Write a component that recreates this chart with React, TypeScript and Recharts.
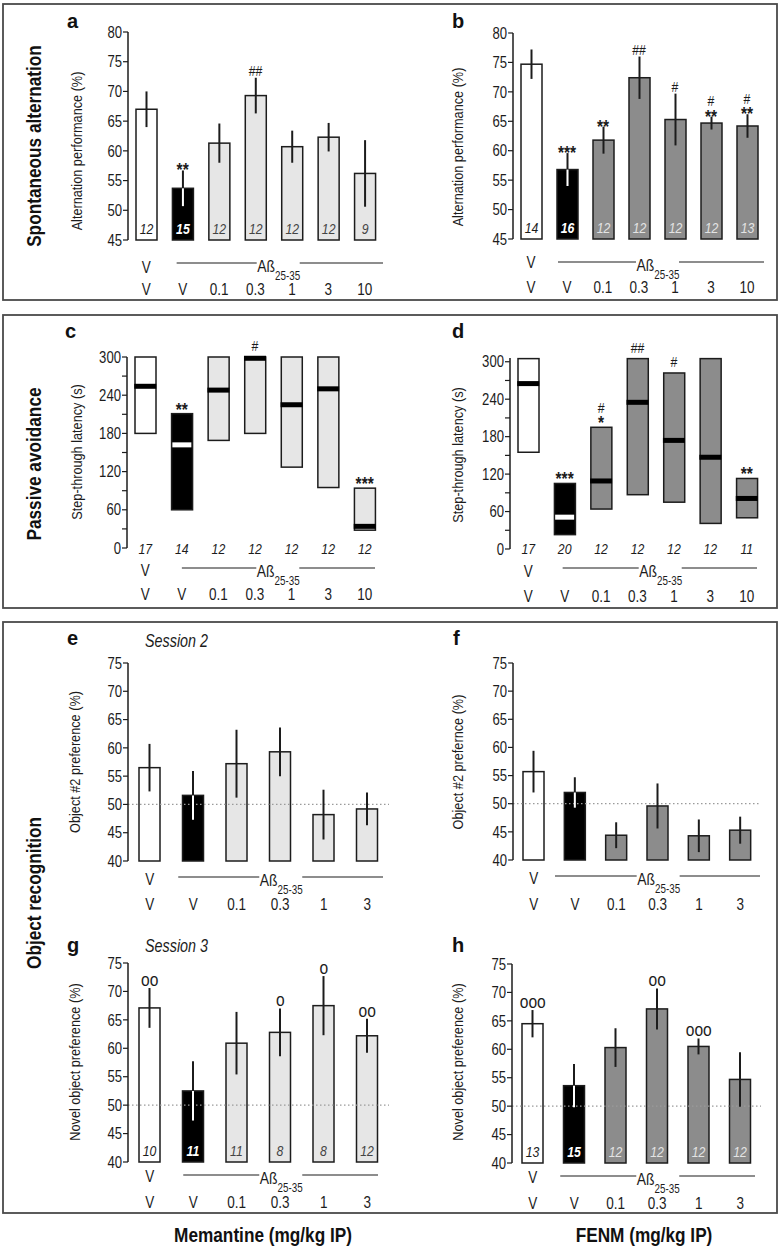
import React from 'react';
import { ComposedChart, Bar, ErrorBar, Line, XAxis, YAxis, ReferenceLine } from 'recharts';

// no condensed face is installed, so Liberation Sans is squeezed horizontally
const FONT = "'Liberation Sans', Arial, sans-serif";
const SX = 0.82;
const INK = '#1c1c1c';
const MEM_FILL = '#e6e6e6';
const FENM_FILL = '#8c8c8c';

const doses7 = ['V', 'V', '0.1', '0.3', '1', '3', '10'];
const doses6 = ['V', 'V', '0.1', '0.3', '1', '3'];

// a - spontaneous alternation, memantine
const altMemMean = [67.0, 53.7, 61.3, 69.3, 60.7, 62.3, 56.2];
const altMemSem = [3.0, 3.0, 3.3, 3.0, 2.7, 2.4, 5.6];
const altMemN = [12, 15, 12, 12, 12, 12, 9];
const altMemSig = ['', '**', '', '##', '', '', ''];

// b - spontaneous alternation, FENM
const altFenmMean = [74.7, 56.8, 61.8, 72.4, 65.3, 64.7, 64.2];
const altFenmSem = [2.5, 2.8, 2.3, 3.6, 4.4, 1.1, 2.0];
const altFenmN = [14, 16, 12, 12, 12, 12, 13];
const altFenmSig = ['', '***', '**', '##', '#', '#\n**', '#\n**'];

// c - passive avoidance, memantine (interquartile range + median)
const paMemLow = [180, 60, 169, 180, 127, 95, 28];
const paMemHigh = [300, 211, 300, 300, 300, 300, 94];
const paMemMedian = [254, 162, 248, 298, 225, 250, 34];
const paMemN = [17, 14, 12, 12, 12, 12, 12];
const paMemSig = ['', '**', '', '#', '', '', '***'];

// d - passive avoidance, FENM
const paFenmLow = [155, 23, 64, 87, 75, 41, 50];
const paFenmHigh = [305, 105, 195, 305, 282, 305, 113];
const paFenmMedian = [265, 51, 109, 235, 174, 147, 81];
const paFenmN = [17, 20, 12, 12, 12, 12, 11];
const paFenmSig = ['', '***', '#\n*', '##', '#', '', '**'];

// e - object recognition session 2, memantine
const s2MemMean = [56.5, 51.6, 57.2, 59.3, 48.2, 49.2];
const s2MemSem = [4.2, 4.3, 6.0, 4.3, 4.4, 2.9];

// f - object recognition session 2, FENM
const s2FenmMean = [55.7, 52.0, 44.4, 49.6, 44.3, 45.3];
const s2FenmSem = [3.7, 2.7, 2.3, 4.0, 2.9, 2.4];

// g - object recognition session 3, memantine
const s3MemMean = [67.1, 52.5, 60.9, 62.8, 67.5, 62.2];
const s3MemSem = [3.5, 5.2, 5.5, 4.2, 5.2, 3.0];
const s3MemN = [10, 11, 11, 8, 8, 12];
const s3MemSig = ['oo', '', '', 'o', 'o', 'oo'];

// h - object recognition session 3, FENM
const s3FenmMean = [64.5, 53.6, 60.3, 67.1, 60.5, 54.7];
const s3FenmSem = [2.4, 3.8, 3.4, 3.6, 1.4, 4.8];
const s3FenmN = [13, 15, 12, 12, 12, 12];
const s3FenmSig = ['ooo', '', '', 'oo', 'ooo', ''];

const altTicks = [45, 50, 55, 60, 65, 70, 75, 80];
const latTicks = [0, 30, 60, 90, 120, 150, 180, 210, 240, 270, 300];
const prefTicks = [40, 45, 50, 55, 60, 65, 70, 75];

const kindOf = (i: number) => (i === 0 ? 'veh' : i === 1 ? 'abeta' : 'drug');

function barRows(doses: string[], mean: number[], sem: number[], n?: number[], sig?: string[]) {
  return doses.map((dose, i) => ({
    dose,
    kind: kindOf(i),
    mean: mean[i],
    errAll: [sem[i], sem[i]],
    errInner: i === 1 ? [sem[i], 0] : [0, 0],
    top: mean[i] + sem[i],
    n: n ? n[i] : null,
    sig: sig ? sig[i] : '',
  }));
}

function boxRows(doses: string[], low: number[], high: number[], median: number[], n: number[], sig: string[]) {
  return doses.map((dose, i) => ({
    dose,
    kind: kindOf(i),
    range: [low[i], high[i]],
    median: median[i],
    top: high[i],
    n: n[i],
    sig: sig[i],
  }));
}

function NText({ x, y, rotate, children, ...rest }: any) {
  const tf = `translate(${x} ${y})${rotate ? ` rotate(${rotate})` : ''} scale(${SX} 1)`;
  return (
    <text x={0} y={0} transform={tf} fontFamily={FONT} fill={INK} {...rest}>
      {children}
    </text>
  );
}

type Layout = {
  left: number; top: number; w: number; h: number;
  r1: number; r2: number; line: number; nRow?: number;
  lead: number; trail: number; abShift?: number;
};

type PanelProps = {
  data: any[];
  layout: Layout;
  domain: [number, number];
  ticks: number[];
  labelStep?: number;
  drugFill: string;
  drugText: string;
  box?: boolean;
  refY?: number;
  nInside?: boolean;
};

function Panel({ data, layout, domain, ticks, labelStep, drugFill, drugText, box, refY, nInside }: PanelProps) {
  const M_TOP = 34;
  const M_RIGHT = 14;
  const YW = 60;
  const XH = 72;
  const count = data.length;
  const band = layout.w / count;
  const bottom = M_TOP + layout.h;
  const plotRight = YW + layout.w;
  const sigGap = box ? 6 : 2;

  const fillOf = (k: string) => (k === 'veh' ? '#fff' : k === 'abeta' ? '#000' : drugFill);
  const textOf = (k: string) => (k === 'veh' ? INK : k === 'abeta' ? '#fff' : drugText);

  const barShape = (p: any) => {
    const { x, y, width, height, payload, index } = p;
    return (
      <g key={`bar-${index}`}>
        <rect x={x} y={y} width={width} height={height} fill={fillOf(payload.kind)} stroke={INK} strokeWidth={1.5} />
        {nInside && payload.n != null && (
          <NText
            x={x + width / 2}
            y={y + height - 6}
            textAnchor="middle"
            fontSize={15}
            fontStyle="italic"
            fontWeight={payload.kind === 'abeta' ? 700 : 400}
            fill={textOf(payload.kind)}
          >
            {payload.n}
          </NText>
        )}
      </g>
    );
  };

  const medianDot = (p: any) => {
    const { cx, cy, payload, index } = p;
    const white = payload.kind === 'abeta';
    const mw = white ? 19 : 22;
    return <rect key={`med-${index}`} x={cx - mw / 2} y={cy - 2.5} width={mw} height={5} fill={white ? '#fff' : '#000'} />;
  };

  // significance marks, stacked upward from the top of the error bar / box
  const sigDot = (p: any) => {
    const { cx, cy, payload, index } = p;
    if (!payload.sig) return <g key={`sig-${index}`} />;
    const parts = String(payload.sig).split('\n').reverse();
    let cursor = -sigGap;
    const spans: React.ReactNode[] = [];
    parts.forEach((s, k) => {
      const star = s[0] === '*';
      const hash = s[0] === '#';
      const fs = star ? 19 : hash ? 15 : 19;
      const lift = star ? 0.42 * fs : 0;
      const gh = star ? 0.3 * fs : hash ? 0.7 * fs : 0.52 * fs;
      spans.push(
        <tspan key={k} x={0} y={cursor + lift} fontSize={fs} fontWeight={star ? 700 : 400}>
          {s}
        </tspan>
      );
      cursor -= gh + 3;
    });
    return (
      <g key={`sig-${index}`}>
        <NText x={cx} y={cy} textAnchor="middle">
          {spans}
        </NText>
      </g>
    );
  };

  const xTick = (p: any) => {
    const i = p.index ?? p.payload?.index ?? 0;
    const x = p.x;
    let bracket = null;
    if (i === 1) {
      const xLast = x + band * (count - 2);
      const mid = (x + xLast) / 2 + (layout.abShift || 0);
      const ly = bottom + layout.line;
      const half = 21;
      bracket = (
        <g>
          <line x1={x - layout.lead} x2={mid - half} y1={ly} y2={ly} stroke={INK} strokeWidth={1.2} />
          <line x1={mid + half + 1} x2={plotRight - layout.trail} y1={ly} y2={ly} stroke={INK} strokeWidth={1.2} />
          <NText x={mid - half + 0.5} y={ly + 8.5} fontSize={17}>
            Aß
            <tspan fontSize={12} dy={8}>25-35</tspan>
          </NText>
        </g>
      );
    }
    return (
      <g>
        {layout.nRow != null && (
          <NText x={x} y={bottom + layout.nRow} fontSize={15} fontStyle="italic" textAnchor="middle">
            {data[i].n}
          </NText>
        )}
        {i === 0 && (
          <NText x={x} y={bottom + layout.r1} fontSize={16.5} textAnchor="middle">
            V
          </NText>
        )}
        {bracket}
        <NText x={x} y={bottom + layout.r2} fontSize={16.5} textAnchor="middle">
          {p.payload.value}
        </NText>
      </g>
    );
  };

  const yTick = (p: any) => {
    const v = p.payload.value;
    const label = labelStep && v % labelStep !== 0 ? '' : String(v);
    return (
      <NText x={p.x} y={p.y} dy="0.355em" textAnchor="end" fontSize={16}>
        {label}
      </NText>
    );
  };

  return (
    <div style={{ position: 'absolute', left: layout.left - YW, top: layout.top - M_TOP }}>
      <ComposedChart
        width={layout.w + YW + M_RIGHT}
        height={layout.h + M_TOP + XH}
        data={data}
        margin={{ top: M_TOP, right: M_RIGHT, bottom: 0, left: 0 }}
      >
        {refY != null && <ReferenceLine y={refY} stroke="#9a9a9a" strokeDasharray="1.5 2.5" strokeWidth={1.3} />}
        <XAxis dataKey="dose" interval={0} height={XH} axisLine={false} tickLine={false} tickSize={0} tick={xTick} />
        <YAxis
          width={YW}
          domain={domain}
          ticks={ticks}
          interval={0}
          tickSize={5}
          tickMargin={1}
          axisLine={{ stroke: INK, strokeWidth: 1.5 }}
          tickLine={{ stroke: INK, strokeWidth: 1.2 }}
          tick={yTick}
        />
        <Bar dataKey={box ? 'range' : 'mean'} barSize={21} shape={barShape} isAnimationActive={false}>
          {!box && <ErrorBar dataKey="errAll" width={0} stroke={INK} strokeWidth={2} direction="y" />}
          {!box && <ErrorBar dataKey="errInner" width={0} stroke="#fff" strokeWidth={2} direction="y" />}
        </Bar>
        {box && <Line dataKey="median" stroke="none" dot={medianDot} activeDot={false} isAnimationActive={false} />}
        <Line dataKey="top" stroke="none" dot={sigDot} activeDot={false} isAnimationActive={false} />
      </ComposedChart>
    </div>
  );
}

const rowTitles = [
  { text: 'Spontaneous alternation', x: 34, y: 146 },
  { text: 'Passive avoidance', x: 34, y: 464 },
  { text: 'Object recognition', x: 34, y: 893 },
];
const panelLetters = [
  { t: 'a', x: 67, y: 28 }, { t: 'b', x: 452, y: 28 },
  { t: 'c', x: 65, y: 338 }, { t: 'd', x: 452, y: 338 },
  { t: 'e', x: 67, y: 645 }, { t: 'f', x: 453, y: 645 },
  { t: 'g', x: 67, y: 952 }, { t: 'h', x: 452, y: 952 },
];
const yTitles = [
  { t: 'Alternation performance (%)', x: 77, y: 151 },
  { t: 'Alternation performance (%)', x: 458, y: 147 },
  { t: 'Step-through latency (s)', x: 77, y: 452 },
  { t: 'Step-through latency (s)', x: 458, y: 455 },
  { t: 'Object #2 preference (%)', x: 75, y: 762 },
  { t: 'Object #2 prefernce (%)', x: 458, y: 762 },
  { t: 'Novel object preference (%)', x: 75, y: 1062 },
  { t: 'Novel object preference (%)', x: 458, y: 1062 },
];

export default function App() {
  return (
    <div style={{ position: 'absolute', left: 0, top: 0, width: 783, height: 1249, background: '#fff', overflow: 'hidden' }}>
      <svg width={783} height={1249} style={{ position: 'absolute', left: 0, top: 0 }}>
        <rect x={3} y={4} width={774} height={296} fill="#fff" stroke="#4a4a4a" strokeWidth={1.8} />
        <rect x={3} y={315} width={774} height={293} fill="#fff" stroke="#4a4a4a" strokeWidth={1.8} />
        <rect x={3} y={622} width={774} height={591} fill="#fff" stroke="#4a4a4a" strokeWidth={1.8} />
        {rowTitles.map((r) => (
          <NText key={r.text} x={r.x} y={r.y} rotate={-90} textAnchor="middle" dominantBaseline="central" fontWeight={700} fontSize={21} fill="#111">
            {r.text}
          </NText>
        ))}
        {panelLetters.map((l) => (
          <text key={l.t} x={l.x} y={l.y} fontFamily={FONT} fontWeight={700} fontSize={20} fill="#111">
            {l.t}
          </text>
        ))}
        {yTitles.map((l, i) => (
          <NText key={i} x={l.x} y={l.y} rotate={-90} textAnchor="middle" dominantBaseline="central" fontSize={15.5}>
            {l.t}
          </NText>
        ))}
        <NText x={145} y={647} fontStyle="italic" fontSize={17.5}>Session 2</NText>
        <NText x={145} y={952} fontStyle="italic" fontSize={17.5}>Session 3</NText>
        <NText x={263} y={1242} textAnchor="middle" fontWeight={700} fontSize={21} fill="#111">Memantine (mg/kg IP)</NText>
        <NText x={644} y={1242} textAnchor="middle" fontWeight={700} fontSize={21} fill="#111">FENM (mg/kg IP)</NText>
      </svg>

      <Panel
        data={barRows(doses7, altMemMean, altMemSem, altMemN, altMemSig)}
        layout={{ left: 128, top: 32, w: 255, h: 208, r1: 33, r2: 55, line: 23, lead: 6, trail: 0, abShift: 4 }}
        domain={[45, 80]} ticks={altTicks} drugFill={MEM_FILL} drugText="#444" nInside
      />
      <Panel
        data={barRows(doses7, altFenmMean, altFenmSem, altFenmN, altFenmSig)}
        layout={{ left: 513, top: 33, w: 252, h: 206, r1: 29, r2: 54, line: 23, lead: 9, trail: 1 }}
        domain={[45, 80]} ticks={altTicks} drugFill={FENM_FILL} drugText="#e4e4e4" nInside
      />
      <Panel
        data={boxRows(doses7, paMemLow, paMemHigh, paMemMedian, paMemN, paMemSig)}
        layout={{ left: 127, top: 357, w: 256, h: 191, r1: 28, r2: 52, line: 20, nRow: 6, lead: 0, trail: 8, abShift: 4 }}
        domain={[0, 300]} ticks={latTicks} labelStep={60} drugFill={MEM_FILL} drugText="#444" box
      />
      <Panel
        data={boxRows(doses7, paFenmLow, paFenmHigh, paFenmMedian, paFenmN, paFenmSig)}
        layout={{ left: 510, top: 358, w: 255, h: 191, r1: 28, r2: 53, line: 19, nRow: 5, lead: 2, trail: 8, abShift: 4 }}
        domain={[0, 306]} ticks={latTicks} labelStep={60} drugFill={FENM_FILL} drugText="#e4e4e4" box
      />
      <Panel
        data={barRows(doses6, s2MemMean, s2MemSem)}
        layout={{ left: 128, top: 663, w: 261, h: 198, r1: 24, r2: 49, line: 16, lead: 15, trail: 6 }}
        domain={[40, 75]} ticks={prefTicks} drugFill={MEM_FILL} drugText="#444" refY={50}
      />
      <Panel
        data={barRows(doses6, s2FenmMean, s2FenmSem)}
        layout={{ left: 513, top: 663, w: 248, h: 197, r1: 24, r2: 50, line: 16, lead: 20, trail: 1 }}
        domain={[40, 75]} ticks={prefTicks} drugFill={FENM_FILL} drugText="#e4e4e4" refY={50}
      />
      <Panel
        data={barRows(doses6, s3MemMean, s3MemSem, s3MemN, s3MemSig)}
        layout={{ left: 128, top: 963, w: 261, h: 199, r1: 20, r2: 46, line: 13, lead: 10, trail: 11 }}
        domain={[40, 75]} ticks={prefTicks} drugFill={MEM_FILL} drugText="#444" refY={50} nInside
      />
      <Panel
        data={barRows(doses6, s3FenmMean, s3FenmSem, s3FenmN, s3FenmSig)}
        layout={{ left: 512, top: 964, w: 249, h: 199, r1: 20, r2: 46, line: 13, lead: 14, trail: 6 }}
        domain={[40, 75]} ticks={prefTicks} drugFill={FENM_FILL} drugText="#e4e4e4" refY={50} nInside
      />
    </div>
  );
}
